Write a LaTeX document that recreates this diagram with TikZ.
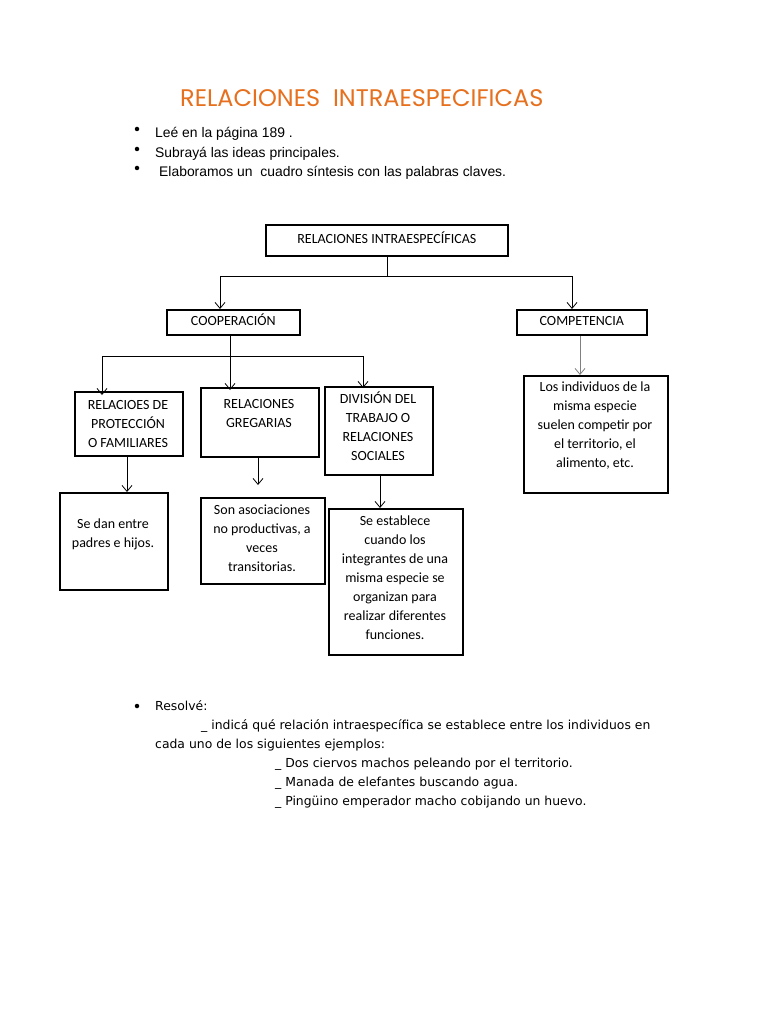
\documentclass[tikz,border=0pt]{standalone}
\usepackage{fontspec}
\setmainfont{Liberation Sans}
\newfontfamily\boxfont{Carlito}
\newfontfamily\tahfont{DejaVu Sans}
\newfontfamily\titfont{Poppins}
\usetikzlibrary{arrows.meta}
\definecolor{titorange}{RGB}{230,112,30}
\begin{document}
\begin{tikzpicture}[x=1pt,y=-1pt,
  box/.style={draw,line width=2.4pt,inner sep=0pt,anchor=north west},
  thinbox/.style={draw,line width=1.7pt,font=\boxfont\fontsize{14}{19}\selectfont,inner sep=0pt,anchor=north west,text height=10pt,text depth=3pt},
  btxt/.style={anchor=north,align=center,inner sep=0pt,font=\boxfont\fontsize{14}{19}\selectfont},
  arr/.style={-{Straight Barb[length=6pt,width=10pt]},line width=0.8pt},
  plain/.style={line width=0.8pt},
  txt/.style={anchor=base west,inner sep=0pt,font=\fontsize{13.9}{16}\selectfont},
  tah/.style={anchor=base west,inner sep=0pt,font=\tahfont\fontsize{12.4}{15}\selectfont},
  bul/.style={circle,fill,inner sep=0pt,minimum size=4.5pt}
]
\useasboundingbox (0,0) rectangle (768,1024);
\fill[white] (0,0) rectangle (768,1024);

% title
\node[anchor=base west,inner sep=0pt,text=titorange,font=\titfont\fontsize{24}{26}\selectfont] (title) at (180,107) {RELACIONES\ \ INTRAESPECIFICAS};

% bullets
\node[bul] (b1) at (137,129) {};
\node[txt] (l1) at (155,138) {Leé en la página 189 .};
\node[bul] (b2) at (137,149) {};
\node[txt] (l2) at (155,158) {Subrayá las ideas principales.};
\node[bul] (b3) at (137,168) {};
\node[txt] (l3) at (159,177) {Elaboramos un\ \ cuadro síntesis con las palabras claves.};

% boxes
\node[thinbox,minimum width=242pt,minimum height=31pt] (top) at (265,224) {RELACIONES INTRAESPECÍFICAS};
\node[thinbox,minimum width=133pt,minimum height=25pt] (coop) at (166,309) {COOPERACIÓN};
\node[thinbox,minimum width=130pt,minimum height=25pt] (comp) at (516,309) {COMPETENCIA};

\node[box,minimum width=108pt,minimum height=64pt] (prot) at (74,391) {};
\node[btxt] (protT) at (128,400) {RELACIOES DE\\PROTECCIÓN\\O FAMILIARES};
\node[box,minimum width=118pt,minimum height=69pt] (greg) at (200,387) {};
\node[btxt] (gregT) at (259,399) {RELACIONES\\GREGARIAS};
\node[box,minimum width=108pt,minimum height=88pt] (div) at (324,386) {};
\node[btxt] (divT) at (378,392) {DIVISIÓN DEL\\TRABAJO O\\RELACIONES\\SOCIALES};

\node[box,minimum width=144pt,minimum height=117pt] (compB) at (523,375) {};
\node[btxt] (compT) at (595,382) {Los individuos de la\\misma especie\\suelen competir por\\el territorio, el\\alimento, etc.};

\node[box,minimum width=108pt,minimum height=97pt] (padres) at (59,492) {};
\node[btxt] (padresT) at (113,519) {Se dan entre\\padres e hijos.};
\node[box,minimum width=124pt,minimum height=86pt] (asoc) at (200,497) {};
\node[btxt] (asocT) at (262,505) {Son asociaciones\\no productivas, a\\veces\\transitorias.};
\node[box,minimum width=134pt,minimum height=146pt] (estab) at (328,508) {};
\node[btxt] (estabT) at (395,516) {Se establece\\cuando los\\integrantes de una\\misma especie se\\organizan para\\realizar diferentes\\funciones.};

% connectors
\coordinate (j1) at (387,276);
\coordinate (j1l) at (220,276);
\coordinate (j1r) at (572,276);
\draw[plain] (top.south -| j1) -- (j1);
\draw[plain] (j1l) -- (j1r);
\draw[arr] (j1l) -- (coop.north -| j1l);
\draw[arr] (j1r) -- (comp.north -| j1r);

\coordinate (j2) at (230,356);
\coordinate (j2l) at (102,356);
\coordinate (j2r) at (363,356);
\draw[plain] (coop.south -| j2) -- (j2);
\draw[plain] (j2l) -- (j2r);
\draw[arr] (j2l) -- ([yshift=-4pt]prot.north -| j2l);
\draw[arr] (j2) -- ([yshift=-3pt]greg.north -| j2);
\draw[arr] (j2r) -- ([yshift=-2pt]div.north -| j2r);

\draw[arr,draw=gray] (comp.south -| 580,0) -- (compB.north -| 580,0);
\draw[arr] (prot.south -| 127,0) -- (padres.north -| 127,0);
\coordinate (gA) at (258,485);
\draw[arr] (greg.south -| gA) -- (gA);
\draw[arr] (div.south -| 380,0) -- (estab.north -| 380,0);

% Resolve section
\node[bul] (b4) at (137,706) {};
\node[tah] (r1) at (155,710) {Resolvé:};
\node[tah] (r2) at (201,729) {\_ indicá qué relación intraespecífica se establece entre los individuos en};
\node[tah] (r3) at (155,748) {cada uno de los siguientes ejemplos:};
\node[tah] (r4) at (275,767) {\_ Dos ciervos machos peleando por el territorio.};
\node[tah] (r5) at (275,786) {\_ Manada de elefantes buscando agua.};
\node[tah] (r6) at (275,805) {\_ Pingüino emperador macho cobijando un huevo.};
\end{tikzpicture}
\end{document}
